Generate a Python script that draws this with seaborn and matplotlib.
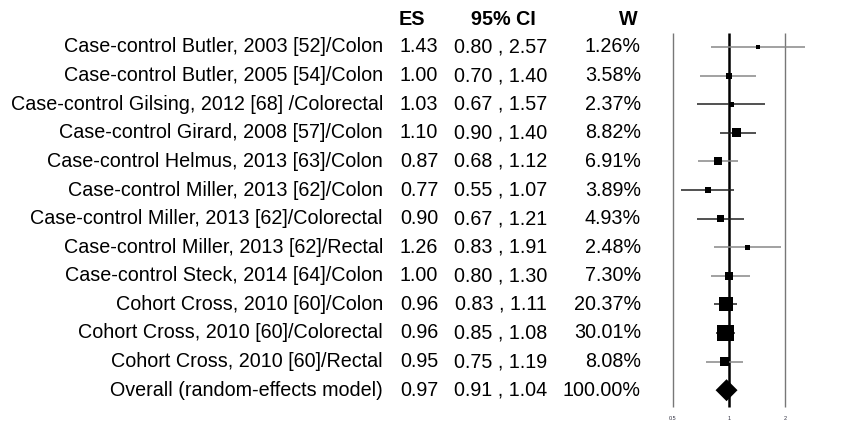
import numpy as np
import pandas as pd
import matplotlib
matplotlib.use("Agg")
import matplotlib.pyplot as plt
import matplotlib.transforms as mtransforms
import seaborn as sns

# datos del forest plot
studies = [
    "Case-control Butler, 2003 [52]/Colon",
    "Case-control Butler, 2005 [54]/Colon",
    "Case-control Gilsing, 2012 [68] /Colorectal",
    "Case-control Girard, 2008 [57]/Colon",
    "Case-control Helmus, 2013 [63]/Colon",
    "Case-control Miller, 2013 [62]/Colon",
    "Case-control Miller, 2013 [62]/Colorectal",
    "Case-control Miller, 2013 [62]/Rectal",
    "Case-control Steck, 2014 [64]/Colon",
    "Cohort Cross, 2010 [60]/Colon",
    "Cohort Cross, 2010 [60]/Colorectal",
    "Cohort Cross, 2010 [60]/Rectal",
]
es = [1.43, 1.00, 1.03, 1.10, 0.87, 0.77, 0.90, 1.26, 1.00, 0.96, 0.96, 0.95]
lci = [0.80, 0.70, 0.67, 0.90, 0.68, 0.55, 0.67, 0.83, 0.80, 0.83, 0.85, 0.75]
uci = [2.57, 1.40, 1.57, 1.40, 1.12, 1.07, 1.21, 1.91, 1.30, 1.11, 1.08, 1.19]
weights = [1.26, 3.58, 2.37, 8.82, 6.91, 3.89, 4.93, 2.48, 7.30, 20.37, 30.01, 8.08]

overall_label = "Overall (random-effects model)"
overall_es = 0.97
overall_lci = 0.91
overall_uci = 1.04
overall_w = 100.00

xticks = [0.5, 1, 2]
xticklabels = ["0.5", "1", "2"]

df = pd.DataFrame({"study": studies, "es": es, "lci": lci, "uci": uci, "w": weights})
df["row"] = np.arange(len(df))
n = len(df)

ci_colors = ["#888888", "#888888", "#222222", "#222222", "#888888", "#222222",
             "#222222", "#888888", "#888888", "#222222", "#222222", "#888888"]

plt.rcParams["font.family"] = ["Liberation Sans", "DejaVu Sans"]
fig = plt.figure(figsize=(8.53, 4.25), dpi=100)
W, H = 853, 425

# ejes del gráfico (pixeles 655-845 en x, 20-415 en y)
left, right, top, bottom = 655, 845, 20, 415
ax = fig.add_axes([left / W, 1 - bottom / H, (right - left) / W, (bottom - top) / H])
ax.set_xscale("log")
ax.set_xlim(2 ** ((left - 729) / 56), 2 ** ((right - 729) / 56))
row_px = 28.6
ax.set_ylim((bottom - 47) / row_px, (top - 47) / row_px)

y0 = (33 - 47) / row_px
y1 = (407 - 47) / row_px
ax.vlines([0.5, 2], y0, y1, color="#777777", lw=1.0)
ax.vlines([1], y0, y1, color="black", lw=1.8, zorder=1)

ax.hlines(df["row"], df["lci"], df["uci"], colors=ci_colors, lw=1.1, zorder=2)
sns.scatterplot(data=df, x="es", y="row", size="w", sizes=(0, 149),
                size_norm=(0, 30.01), marker="s", color="black",
                edgecolor="none", legend=False, ax=ax, zorder=3)

# diamante del efecto global
ax.hlines([n], overall_lci, overall_uci, colors="black", lw=1.0, zorder=2)
ax.scatter([overall_es], [n], marker="D", s=125, color="black",
           edgecolors="none", zorder=4)

ax.set_xticks(xticks)
ax.set_xticklabels(xticklabels)
ax.minorticks_off()
ax.tick_params(axis="x", length=0, pad=1, labelsize=4, labelcolor="#334")
ax.set_yticks([])
for s in ax.spines.values():
    s.set_visible(False)
ax.set_xlabel("")
ax.set_ylabel("")

# columnas de texto
trans = mtransforms.blended_transform_factory(fig.transFigure, ax.transData)
fs = 14.2
hy = -0.95
ax.text(412 / W, hy, "ES", transform=trans, ha="center", va="center",
        fontsize=fs, fontweight="bold", clip_on=False)
ax.text(503 / W, hy, "95% CI", transform=trans, ha="center", va="center",
        fontsize=fs, fontweight="bold", clip_on=False)
ax.text(628 / W, hy, "W", transform=trans, ha="center", va="center",
        fontsize=fs, fontweight="bold", clip_on=False)

all_labels = studies + [overall_label]
all_es = es + [overall_es]
all_lci = lci + [overall_lci]
all_uci = uci + [overall_uci]
all_w = weights + [overall_w]
for i in range(n + 1):
    ax.text(383 / W, i, all_labels[i], transform=trans, ha="right", va="center",
            fontsize=fs, clip_on=False)
    ax.text(400 / W, i, f"{all_es[i]:.2f}", transform=trans, ha="left", va="center",
            fontsize=fs, clip_on=False)
    ax.text(501 / W, i, f"{all_lci[i]:.2f} , {all_uci[i]:.2f}", transform=trans,
            ha="center", va="center", fontsize=fs, clip_on=False)
    ax.text(641 / W, i, f"{all_w[i]:.2f}%", transform=trans, ha="right", va="center",
            fontsize=fs, clip_on=False)

fig.savefig("out.png", dpi=100)
